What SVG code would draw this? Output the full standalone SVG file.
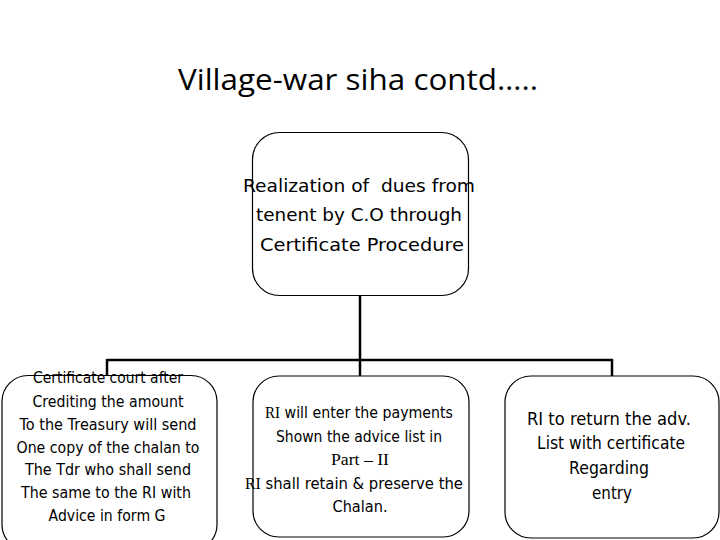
<svg xmlns="http://www.w3.org/2000/svg" width="720" height="540" viewBox="0 0 720 540">
<style>
.box{fill:#fff;stroke:#000;stroke-width:1.2}
.t{font-family:"DejaVu Sans","Liberation Sans",sans-serif;fill:#000;text-anchor:middle}
.s{font-family:"Liberation Serif",serif}
.conn{stroke:#000;stroke-width:2.5;fill:none}
</style>
<rect width="720" height="540" fill="#fff"/>
<text x="358" y="90" font-family="Open Sans, Liberation Sans, sans-serif" font-size="30" text-anchor="middle" textLength="360" lengthAdjust="spacingAndGlyphs">Village-war siha contd…..</text>
<g id="connectors">
<path class="conn" d="M360,295 V376"/>
<path class="conn" d="M107,360 H613"/>
<path class="conn" d="M107,359 V376"/>
<path class="conn" d="M612,359 V376"/>
</g>
<g id="top">
<rect class="box" x="252.5" y="132.5" width="216" height="163" rx="27"/>
<text class="t" font-size="18.5" x="359" y="192" textLength="232" lengthAdjust="spacingAndGlyphs" xml:space="preserve" style="white-space:pre">Realization of  dues from</text>
<text class="t" font-size="18.5" x="359" y="221" textLength="206" lengthAdjust="spacingAndGlyphs">tenent by C.O through</text>
<text class="t" font-size="18.5" x="362" y="251" textLength="204" lengthAdjust="spacingAndGlyphs">Certificate Procedure</text>
</g>
<g id="left">
<rect class="box" x="2" y="375.5" width="215" height="175" rx="26"/>
<g class="t" font-size="15">
<text x="108" y="383" textLength="150" lengthAdjust="spacingAndGlyphs">Certificate court after</text>
<text x="108" y="407" textLength="151" lengthAdjust="spacingAndGlyphs">Crediting the amount</text>
<text x="108" y="430" textLength="177" lengthAdjust="spacingAndGlyphs">To the Treasury will send</text>
<text x="108" y="453" textLength="183" lengthAdjust="spacingAndGlyphs">One copy of the chalan to</text>
<text x="108" y="475" textLength="166" lengthAdjust="spacingAndGlyphs">The Tdr who shall send</text>
<text x="106" y="498" textLength="170" lengthAdjust="spacingAndGlyphs">The same to the RI with</text>
<text x="107" y="521" textLength="117" lengthAdjust="spacingAndGlyphs">Advice in form G</text>
</g>
</g>
<g id="middle">
<rect class="box" x="253" y="376" width="216" height="161" rx="26"/>
<g class="t" font-size="15">
<text x="359" y="418" textLength="188" lengthAdjust="spacingAndGlyphs"><tspan class="s" font-size="16">RI</tspan> will enter the payments</text>
<text x="359" y="442" textLength="166" lengthAdjust="spacingAndGlyphs">Shown the advice list in</text>
<text x="360" y="465" textLength="58" lengthAdjust="spacingAndGlyphs"><tspan class="s" font-size="16">Part – II</tspan></text>
<text x="354" y="489" textLength="218" lengthAdjust="spacingAndGlyphs"><tspan class="s" font-size="16">RI</tspan> shall retain &amp; preserve the</text>
<text x="360" y="512" textLength="55" lengthAdjust="spacingAndGlyphs">Chalan.</text>
</g>
</g>
<g id="right">
<rect class="box" x="505" y="376" width="214" height="162" rx="26"/>
<g class="t" font-size="17">
<text x="609" y="425" textLength="164" lengthAdjust="spacingAndGlyphs">RI to return the adv.</text>
<text x="611" y="449" textLength="148" lengthAdjust="spacingAndGlyphs">List with certificate</text>
<text x="609" y="474" textLength="80" lengthAdjust="spacingAndGlyphs">Regarding</text>
<text x="612" y="499" textLength="40" lengthAdjust="spacingAndGlyphs">entry</text>
</g>
</g>
</svg>
